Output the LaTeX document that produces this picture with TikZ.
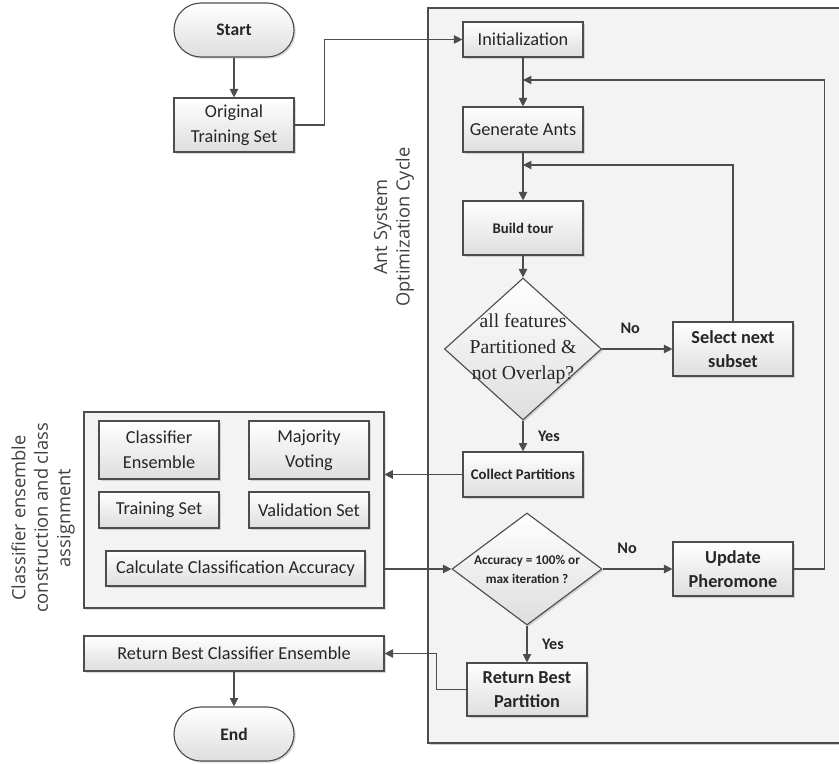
\documentclass[tikz,border=0pt]{standalone}
\usepackage{fontspec}
\setmainfont{Carlito}
\newfontfamily\serifface{Liberation Serif}
\newfontfamily\sideface{Open Sans}
\usetikzlibrary{shapes.geometric,shadows,arrows.meta,positioning}

\definecolor{linegray}{HTML}{4D4D4D}
\definecolor{panelgray}{HTML}{F3F3F3}
\definecolor{inkgray}{HTML}{262626}

\tikzset{
  shade box/.style={draw=linegray, line width=0.8pt, top color=white, bottom color=black!13,
    drop shadow={shadow xshift=1.2pt, shadow yshift=-1.2pt, opacity=0.3},
    text=inkgray, align=center, inner sep=1pt},
  procbox/.style={shade box, minimum width=3cm, minimum height=1.35cm, font=\fontsize{13}{17.5}\selectfont},
  thinbox/.style={procbox, minimum height=0.875cm},
  termbox/.style={shade box, rounded corners=0.675cm, minimum width=3cm, minimum height=1.35cm,
    font=\fontsize{12.5}{15}\selectfont\bfseries},
  decision/.style={shade box, diamond, inner sep=0pt},
  panel/.style={draw=linegray, line width=0.8pt, fill=panelgray,
    drop shadow={shadow xshift=1.5pt, shadow yshift=-1.5pt, opacity=0.25}},
  panelfill/.style={fill=panelgray},
  flow/.style={draw=linegray, line width=0.8pt, -{Triangle[length=6pt,width=6pt]}},
  link/.style={draw=linegray, line width=0.8pt},
  answer/.style={font=\fontsize{11.5}{13}\selectfont\bfseries, text=inkgray},
  side/.style={rotate=90, align=center, text=black!75, font=\sideface\fontsize{13}{16}\selectfont}
}

\begin{document}
\begin{tikzpicture}[x=0.025cm, y=-0.025cm]
\useasboundingbox (0,0) rectangle (839,763);

% containers
\fill[black!20] (430,10) rectangle (839,745);
\fill[panelfill] (428,8) rectangle (839,743);
\draw[link] (839,8) -- (428,8) -- (428,743) -- (839,743);
\draw[panel] (84,412) rectangle (384,608);
\node (clsbox) [minimum width=7.5cm, minimum height=4.9cm, inner sep=0pt] at (234,510) {};

\node[side] (antlbl) at (394,227) {Ant System\\Optimization Cycle};
\node[side] (clslbl) at (43,518) {Classifier ensemble\\construction and class\\assignment};

% left column
\node[termbox] (start) at (234,30) {Start};
\node[procbox] (ots) at (234,125) {Original\\Training Set};

\node[procbox, minimum height=1.45cm] (ce) at (159,450) {Classifier\\Ensemble};
\node[procbox, minimum height=1.45cm] (mv) at (309,450) {Majority\\Voting};
\node[thinbox, minimum height=0.9cm] (ts) at (159,510) {Training Set};
\node[thinbox, minimum height=0.9cm] (vs) at (309,510) {Validation Set};
\node[thinbox, minimum width=6.475cm] (cca) at (235.5,568.5) {Calculate Classification Accuracy};

\node[thinbox, minimum width=7.5cm] (rbce) at (234,653.5) {Return Best Classifier Ensemble};
\node[termbox] (endn) at (234,734) {End};

% ant system cycle
\node[thinbox] (init) at (523,39.5) {Initialization};
\node[procbox, minimum height=1.125cm] (gen) at (523,129.5) {Generate Ants};
\node[procbox, font=\fontsize{10.5}{12}\selectfont\bfseries] (tour) at (523,228) {Build tour};
\node[decision, minimum width=3.925cm, minimum height=3.55cm,
  label={[text=inkgray, align=center, font=\serifface\fontsize{14}{18.5}\selectfont]center:all features\\Partitioned \&\\not Overlap?}] (dec1) at (523,349) {};
\node[procbox, font=\fontsize{13}{17}\selectfont\bfseries] (sel) at (733,349) {Select next\\subset};
\node[procbox, minimum height=1.125cm, font=\fontsize{10.5}{12}\selectfont\bfseries] (coll) at (523,474.5) {Collect Partitions};
\node[decision, minimum width=3.75cm, minimum height=2.8cm,
  label={[text=inkgray, align=center, font=\fontsize{9.4}{13.5}\selectfont\bfseries]center:Accuracy = 100\% or\\max iteration ?}] (dec2) at (527,569) {};
\node[procbox, font=\fontsize{13}{17}\selectfont\bfseries] (upd) at (733,569) {Update\\Pheromone};
\node[procbox, minimum height=1.325cm, font=\fontsize{13}{17}\selectfont\bfseries] (rbp) at (527,689.5) {Return Best\\Partition};

\coordinate (loopa) at (523,80);
\coordinate (loopb) at (523,165);

% connectors
\draw[flow] (start) -- (ots);
\draw[flow] (ots.east) -- ++(30,0) |- (init.west);
\draw[flow] (init) -- (gen);
\draw[flow] (gen) -- (tour);
\draw[flow] (tour) -- (dec1);
\draw[flow] (dec1.east) -- (sel.west) node[answer, pos=0.4, above=7pt] {No};
\draw[flow] (sel.north) |- (loopb);
\draw[flow] (dec1.south) -- (coll.north) node[answer, midway, right=7pt] {Yes};
\draw[flow] (coll.west) -- (coll.west -| clsbox.east);
\draw[flow] (clsbox.east |- dec2.west) -- (dec2.west);
\draw[flow] (dec2.east) -- (upd.west) node[answer, pos=0.35, above=7pt] {No};
\draw[flow] (upd.east) -- ++(31,0) |- (loopa);
\draw[flow] (dec2.south) -- (rbp.north) node[answer, midway, right=7pt] {Yes};
\draw[flow] (rbp.west) -- ++(-30,0) |- (rbce.east);
\draw[flow] (rbce) -- (endn);
\end{tikzpicture}
\end{document}
